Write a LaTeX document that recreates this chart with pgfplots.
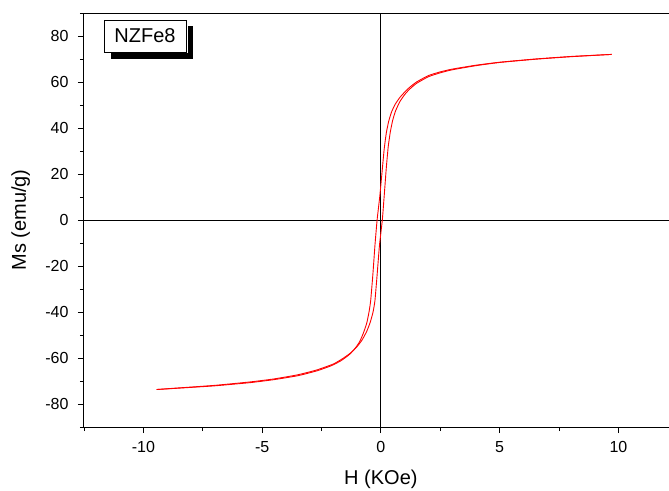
\documentclass[border=0pt]{standalone}
\usepackage{fontspec}
\setmainfont{Liberation Sans}
\usepackage{pgfplots}
\pgfplotsset{compat=1.18}

% descending branch (from +H max down)
\pgfplotstableread{
H M
9.71 72.0
8.0 71.1
6.5 70.0
5.0 68.6
4.0 67.3
3.0 65.6
2.5 64.4
2.0 62.8
1.5 60.0
1.2 57.6
1.0 55.6
0.8 53.3
0.6 50.3
0.45 47.0
0.33 43.0
0.23 38.0
0.14 31.0
0.05 21.0
-0.05 10.0
-0.16 0.0
-0.25 -11.0
-0.34 -24.0
-0.43 -35.0
-0.5 -40.0
-0.6 -45.0
-0.75 -49.5
-0.9 -53.0
-1.1 -56.0
-1.35 -58.7
-1.7 -61.3
-2.1 -63.4
-2.7 -65.6
-3.5 -67.7
-4.5 -69.4
-5.5 -70.7
-7.0 -72.1
-8.5 -73.1
-9.44 -73.7
}\down

% ascending branch (from -H max up)
\pgfplotstableread{
H M
-9.44 -73.7
-8.5 -73.0
-7.0 -71.9
-5.5 -70.4
-4.5 -69.1
-3.5 -67.3
-2.7 -65.2
-2.0 -62.6
-1.6 -60.2
-1.25 -57.6
-1.0 -55.0
-0.8 -52.3
-0.6 -48.5
-0.45 -44.5
-0.33 -40.0
-0.25 -35.0
-0.16 -24.0
-0.06 -11.0
0.06 0.0
0.15 12.0
0.23 23.0
0.31 32.0
0.4 38.5
0.5 43.5
0.62 47.5
0.8 51.5
1.0 54.5
1.2 56.8
1.5 59.4
2.0 62.3
2.5 64.0
3.0 65.3
4.0 67.1
5.0 68.5
6.5 69.9
8.0 71.0
9.71 72.0
}\up

\begin{document}
\begin{tikzpicture}
\begin{axis}[
  scale only axis,
  width=585pt, height=414pt,
  xmin=-12.5, xmax=12.13,
  ymin=-90, ymax=90,
  axis x line*=box,
  axis y line*=left,
  xtick pos=left,
  ytick pos=left,
  tick align=outside,
  xtick={-10,-5,0,5,10},
  ytick={-80,-60,...,80},
  minor xtick={-12.5,-7.5,-2.5,2.5,7.5},
  minor ytick={-90,-70,...,90},
  major tick length=6pt,
  minor tick length=4pt,
  every tick/.style={black, line width=0.9pt},
  axis line style={line width=1pt},
  /pgf/number format/assume math mode=true,
  tick label style={font=\fontsize{16}{18}\selectfont},
  xticklabel style={yshift=-5pt},
  yticklabel style={xshift=-6pt},
  xlabel={H (KOe)},
  ylabel={Ms (emu/g)},
  label style={font=\fontsize{20}{22}\selectfont},
  xlabel style={at={(axis cs:0,-90)}, anchor=center, yshift=-52pt},
  ylabel style={at={(axis description cs:-0.108,0.5)}, anchor=center},
  clip=false
]
\addplot[black, line width=0.8pt] coordinates {(0,-90) (0,90)};
\addplot[black, line width=0.8pt] coordinates {(-12.5,0) (12.13,0)};
\addplot[red, line width=0.9pt, smooth, tension=0.3] table[x=H, y=M] {\down};
\addplot[red, line width=0.9pt, smooth, tension=0.3] table[x=H, y=M] {\up};
\end{axis}
% legend-style label box with shadow
\fill[black] (27pt,401pt) rectangle (109pt,368pt);
\fill[white] (19pt,408pt) rectangle (103.5pt,373.5pt);
\draw[black, line width=0.8pt] (20pt,407pt) rectangle (102pt,375pt);
\node[font=\fontsize{20}{22}\selectfont] at (61pt,391pt) {NZFe8};
\pgfresetboundingbox
\path[use as bounding box] (-84pt,-63pt) rectangle (585pt,427pt);
\end{tikzpicture}
\end{document}
